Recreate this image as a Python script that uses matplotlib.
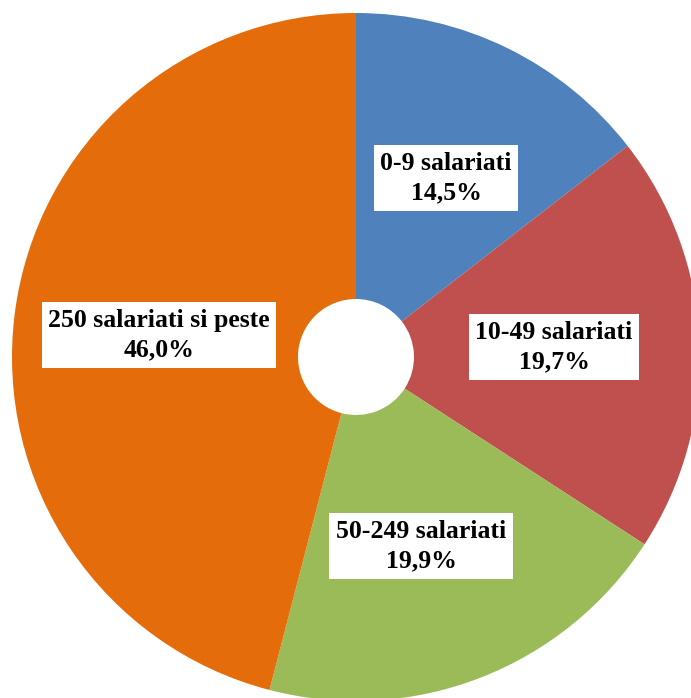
import matplotlib.pyplot as plt

# Slice data (clockwise from 12 o'clock)
labels = ['0-9 salariati', '10-49 salariati', '50-249 salariati', '250 salariati si peste']
values = [14.5, 19.7, 19.9, 46.0]
pct_text = ['14,5%', '19,7%', '19,9%', '46,0%']
colors = ['#4F81BD', '#C0504D', '#9BBB59', '#E46C0A']

W, H = 691, 698
fig = plt.figure(figsize=(W / 100, H / 100), dpi=100)
ax = fig.add_axes([0, 0, 1, 1])

cx, cy, r = 356, H - 357, 344
hole = 58
ax.pie(values, colors=colors, startangle=90, counterclock=False,
       center=(cx, cy), radius=r, frame=True,
       wedgeprops=dict(width=r - hole, linewidth=0))
ax.set_xlim(0, W)
ax.set_ylim(0, H)
ax.set_aspect('equal')
ax.axis('off')

# label positions in pixel coords (x, y from top)
label_pos = [(446, 178), (554, 347), (421, 546), (159, 335)]
for lab, p, (x, y) in zip(labels, pct_text, label_pos):
    ax.text(x, H - y, lab + '\n' + p, ha='center', va='center',
            fontsize=18.5, fontweight='bold', family='Liberation Serif',
            linespacing=1.35,
            bbox=dict(boxstyle='square,pad=0.25', fc='white', ec='none'))

plt.savefig('out.png', dpi=100)
